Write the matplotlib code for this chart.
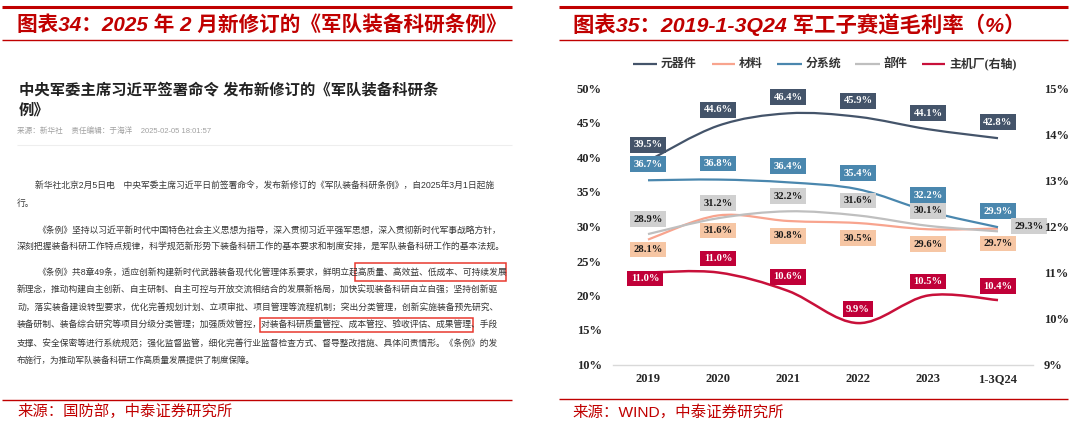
import numpy as np
import matplotlib
matplotlib.use('Agg')
import matplotlib.pyplot as plt
from matplotlib.path import Path
from matplotlib.patches import PathPatch, Rectangle
from matplotlib.lines import Line2D

plt.rcParams['font.family'] = ['Liberation Serif', 'Noto Sans CJK SC', 'DejaVu Sans']

W, H = 1080, 423

# 数据（右图）
categories = ['2019', '2020', '2021', '2022', '2023', '1-3Q24']
yuanqijian = [39.5, 44.6, 46.4, 45.9, 44.1, 42.8]
cailiao = [28.1, 31.6, 30.8, 30.5, 29.6, 29.7]
fenxitong = [36.7, 36.8, 36.4, 35.4, 32.2, 29.9]
bujian = [28.9, 31.2, 32.2, 31.6, 30.1, 29.3]
zhujichang = [11.0, 11.0, 10.6, 9.9, 10.5, 10.4]
series_names = ['元器件', '材料', '分系统', '部件', '主机厂(右轴)']
left_ticks = [10, 15, 20, 25, 30, 35, 40, 45, 50]
right_ticks = [9, 10, 11, 12, 13, 14, 15]

# 左图文章文字
title_left = '图表34：2025 年 2 月新修订的《军队装备科研条例》'
title_right = '图表35：2019-1-3Q24 军工子赛道毛利率（%）'
source_left = '来源：国防部，中泰证券研究所'
source_right = '来源：WIND，中泰证券研究所'
headline = ['中央军委主席习近平签署命令 发布新修订的《军队装备科研条', '例》']
meta = '来源：新华社    责任编辑：于海洋    2025-02-05 18:01:57'
para_lines = [
    '新华社北京2月5日电　中央军委主席习近平日前签署命令，发布新修订的《军队装备科研条例》，自2025年3月1日起施',
    '行。',
    '《条例》坚持以习近平新时代中国特色社会主义思想为指导，深入贯彻习近平强军思想，深入贯彻新时代军事战略方针，',
    '深刻把握装备科研工作特点规律，科学规范新形势下装备科研工作的基本要求和制度安排，是军队装备科研工作的基本法规。',
    '《条例》共8章49条，适应创新构建新时代武器装备现代化管理体系要求，鲜明立起高质量、高效益、低成本、可持续发展',
    '新理念，推动构建自主创新、自主研制、自主可控与开放交流相结合的发展新格局，加快实现装备科研自立自强；坚持创新驱',
    '动，落实装备建设转型要求，优化完善规划计划、立项审批、项目管理等流程机制；突出分类管理，创新实施装备预先研究、',
    '装备研制、装备综合研究等项目分级分类管理；加强质效管控，对装备科研质量管控、成本管控、验收评估、成果管理、手段',
    '支撑、安全保密等进行系统规范；强化监督监管，细化完善行业监督检查方式、督导整改措施、具体问责情形。《条例》的发',
    '布施行，为推动军队装备科研工作高质量发展提供了制度保障。',
]
para_x0 = [35, 17, 37, 17, 37, 17, 17, 17, 17, 17]
para_x1 = [495, None, 502, 503, 506, 498, 496, 499, 498, 258]
para_y = [186, 203, 230, 247, 273, 290.5, 308, 325.5, 343, 360.5]

RED = '#C00000'


def fx(px):
    return px / W


def fy(py):
    return 1 - py / H


fig = plt.figure(figsize=(W / 100, H / 100), dpi=100, facecolor='white')
renderer = fig.canvas.get_renderer()


def fit(t, width_px):
    for _ in range(3):
        w = t.get_window_extent(renderer).width
        t.set_fontsize(t.get_fontsize() * width_px / w)
    return t.get_fontsize()


def hline(x0, x1, y, color, lw):
    fig.add_artist(Line2D([fx(x0), fx(x1)], [fy(y), fy(y)], color=color, lw=lw,
                          transform=fig.transFigure, solid_capstyle='butt'))


def ftext(x, y, s, **kw):
    return fig.text(fx(x), fy(y), s, va='center', ha='left', **kw)


# ---- 页眉/页脚 ----
sans_cjk = ['Liberation Sans', 'Noto Sans CJK SC']
hline(2, 512, 7, RED, 2.2)
hline(2, 512, 40, RED, 1.0)
hline(559, 1068, 7, RED, 2.2)
hline(559, 1068, 40, RED, 1.0)
hline(2, 512, 400, RED, 1.0)
hline(559, 1068, 399, RED, 1.0)

t = ftext(17, 25, title_left, color=RED, fontsize=15, fontweight='bold', fontstyle='italic', family=sans_cjk)
fit(t, 490)
t = ftext(573, 25, title_right, color=RED, fontsize=15, fontweight='bold', fontstyle='italic', family=sans_cjk)
fit(t, 453)
t = ftext(17, 411, source_left, color=RED, fontsize=11, family=sans_cjk)
fit(t, 215)
t = ftext(572, 412, source_right, color=RED, fontsize=11, family=sans_cjk)
fit(t, 211)

# ---- 左图：新闻截图 ----
t = ftext(19, 90, headline[0], color='#222222', fontsize=11, fontweight='bold', family=sans_cjk)
hs = fit(t, 419)
ftext(19, 110, headline[1], color='#222222', fontsize=hs, fontweight='bold', family=sans_cjk)
t = ftext(17, 131, meta, color='#a0a0a0', fontsize=5.5, family=sans_cjk)
fit(t, 194)
hline(17, 512, 145, '#eeeeee', 0.8)

sizes = []
for s, x0, x1, y in zip(para_lines, para_x0, para_x1, para_y):
    t = ftext(x0, y, s, color='#363636', fontsize=6.3, family=sans_cjk)
    if x1 is not None:
        sizes.append(fit(t, x1 - x0))
    else:
        t.set_gid('short')
ps = float(np.median(sizes))
for t in fig.texts:
    if t.get_gid() == 'short':
        t.set_fontsize(ps)

for (x0, y0, x1, y1) in [(355, 263, 506, 281), (260, 318, 473, 332)]:
    fig.add_artist(Rectangle((fx(x0), fy(y1)), (x1 - x0) / W, (y1 - y0) / H,
                             transform=fig.transFigure, fill=False, ec='#E8392F', lw=1.1))

# ---- 右图：毛利率 ----
ax = fig.add_axes([fx(613), fy(364.5), (1033 - 613) / W, (364.5 - 88.5) / H])
ax2 = ax.twinx()
ax.set_xlim(-0.5, 5.5)
ax.set_ylim(10, 50)
ax2.set_ylim(9, 15)
for a in (ax, ax2):
    for sp in a.spines.values():
        sp.set_visible(False)
ax.spines['bottom'].set_visible(True)
ax.spines['bottom'].set_color('#d9d9d9')
ax.spines['bottom'].set_linewidth(1.0)

tick_font = dict(family='Liberation Serif', fontweight='bold', fontsize=9, color='#262626')
ax.set_xticks(range(len(categories)))
ax.set_xticklabels(categories, **tick_font)
ax.set_yticks(left_ticks)
ax.set_yticklabels([f'{v}%' for v in left_ticks], **tick_font)
ax2.set_yticks(right_ticks)
ax2.set_yticklabels([f'{v}%' for v in right_ticks], **tick_font)
ax.tick_params(axis='x', length=0, pad=6)
ax.tick_params(axis='y', length=0, pad=8)
ax2.tick_params(axis='y', length=0, pad=8)


def smooth_path(xs, ys):
    pts = np.column_stack([xs, ys]).astype(float)
    n = len(pts)
    verts = [pts[0]]
    codes = [Path.MOVETO]
    for i in range(n - 1):
        p0 = pts[max(i - 1, 0)]
        p1 = pts[i]
        p2 = pts[i + 1]
        p3 = pts[min(i + 2, n - 1)]
        verts += [p1 + (p2 - p0) / 6, p2 - (p3 - p1) / 6, p2]
        codes += [Path.CURVE4] * 3
    return Path(verts, codes)


x = np.arange(len(categories))
series = [
    # values, axis, line color, box color, text color, lw, label offset (px, down is +)
    (yuanqijian, ax, '#44546A', '#44546A', 'white', 1.6, [(0, -16)] * 6),
    (cailiao, ax, '#F8A48E', '#F6C6A4', '#1a1a1a', 1.6, [(0, 10)] + [(0, 15)] * 5),
    (fenxitong, ax, '#4A87AE', '#4A87AE', 'white', 1.6, [(0, -16)] * 6),
    (bujian, ax, '#BFBFBF', '#D0D0D0', '#1a1a1a', 1.6, [(0, -15)] * 5 + [(31, -5)]),
    (zhujichang, ax2, '#C8103A', '#C00038', 'white', 1.8, [(-3, 6)] + [(0, -14)] * 5),
]
for vals, a, lc, bc, tc, lw, offs in series:
    a.add_patch(PathPatch(smooth_path(x, vals), fill=False, ec=lc, lw=lw, zorder=2))
    for xi, v, (dx, dy) in zip(x, vals, offs):
        a.annotate(f'{v:.1f}%', (xi, v), xytext=(dx * 0.72, -dy * 0.72), textcoords='offset points',
                   ha='center', va='center', fontsize=7.6, fontweight='bold', family='Liberation Serif',
                   color=tc, zorder=5, annotation_clip=False,
                   bbox=dict(boxstyle='square,pad=0.32', fc=bc, ec='none'))

# 图例
legend_colors = ['#44546A', '#F8A48E', '#4A87AE', '#BFBFBF', '#C8103A']
legend_x = [(633, 657), (712, 735), (777, 802), (855, 880), (922, 945)]
for name, c, (xa, xb) in zip(series_names, legend_colors, legend_x):
    hline(xa, xb, 64, c, 1.6)
    ftext(xb + 4, 64, name, color='#333333', fontsize=8.6, fontweight='bold',
          family=['Liberation Serif', 'Noto Sans CJK SC'])

fig.savefig('out.png', dpi=100, facecolor='white')
